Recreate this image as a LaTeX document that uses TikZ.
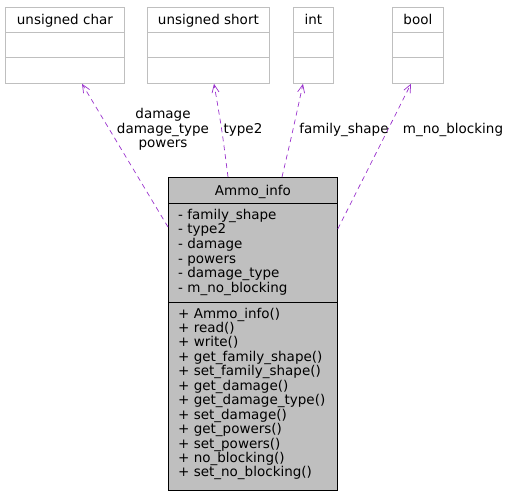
\documentclass[tikz,border=0pt]{standalone}
\usepackage{fontspec}
\setmainfont{DejaVu Sans}
\usetikzlibrary{arrows.meta,calc}
\begin{document}
\begin{tikzpicture}[x=1pt,y=-1pt,
  every node/.style={font=\fontsize{13.5}{14}\selectfont, inner sep=0pt},
  typebox/.style={draw=gray!50, line width=0.8pt, anchor=north west, minimum height=76pt},
  classbox/.style={draw=black, fill=gray!50, line width=0.8pt, anchor=north west, minimum width=169pt, minimum height=313pt},
  sepgray/.style={draw=gray!50, line width=0.8pt},
  sepblack/.style={draw=black, line width=0.8pt},
  dep/.style={draw=depcol, line width=0.7pt, dash pattern=on 5pt off 4pt, -{Straight Barb[length=8pt,width=7pt,line width=0.7pt]}},
  lbl/.style={anchor=base, align=center},
  member/.style={anchor=base west},
]
\definecolor{depcol}{HTML}{9A32CD}
\useasboundingbox (0,0) rectangle (524,493);

% type boxes
\node[typebox, minimum width=119pt] (uchar) at (5,7) {};
\node[typebox, minimum width=122pt] (ushort) at (147,7) {};
\node[typebox, minimum width=40pt] (int) at (293,7) {};
\node[typebox, minimum width=51pt] (bool) at (392,7) {};
\foreach \b in {uchar,ushort,int,bool}{
  \draw[sepgray] ($(\b.north west)+(0,25)$) -- ($(\b.north east)+(0,25)$);
  \draw[sepgray] ($(\b.north west)+(0,50)$) -- ($(\b.north east)+(0,50)$);
}
\node[anchor=base] (tuchar) at ($(uchar.north)+(0,17)$) {unsigned char};
\node[anchor=base] (tushort) at ($(ushort.north)+(0,17)$) {unsigned short};
\node[anchor=base] (tint) at ($(int.north)+(0,17)$) {int};
\node[anchor=base] (tbool) at ($(bool.north)+(0,17)$) {bool};

% class box
\node[classbox] (ammo) at (168,177) {};
\draw[sepblack] ($(ammo.north west)+(0,26)$) -- ($(ammo.north east)+(0,26)$);
\draw[sepblack] ($(ammo.north west)+(0,125)$) -- ($(ammo.north east)+(0,125)$);
\node[anchor=base] (title) at ($(ammo.north)+(0,18)$) {Ammo\_info};

\foreach \t [count=\i from 0] in {family\_shape,type2,damage,powers,damage\_type,m\_no\_blocking}{
  \node[member] (a\i) at (178,{219+14.7*\i}) {- \t};
}
\foreach \t [count=\i from 0] in {Ammo\_info(),read(),write(),get\_family\_shape(),set\_family\_shape(),get\_damage(),get\_damage\_type(),set\_damage(),get\_powers(),set\_powers(),no\_blocking(),set\_no\_blocking()}{
  \node[member] (m\i) at (178,{318+14.45*\i}) {+ \t};
}

% dependencies
\draw[dep] ($(ammo.north west)+(0,50)$) -- ($(uchar.south west)+(77,0)$);
\draw[dep] ($(ammo.north west)+(60,0)$) .. controls (222,130) .. ($(ushort.south west)+(67,0)$);
\draw[dep] ($(ammo.north west)+(114,0)$) .. controls (293,130) .. ($(int.south west)+(10,0)$);
\draw[dep] ($(ammo.north east)+(0,52)$) -- ($(bool.south west)+(19,0)$);

% labels
\node[lbl] (l1) at (163,118) {damage};
\node[lbl] (l2) at (163,133) {damage\_type};
\node[lbl] (l3) at (163,147.5) {powers};
\node[lbl] (l4) at (243,133) {type2};
\node[lbl] (l5) at (344,133) {family\_shape};
\node[lbl] (l6) at (453,133) {m\_no\_blocking};
\end{tikzpicture}
\end{document}
